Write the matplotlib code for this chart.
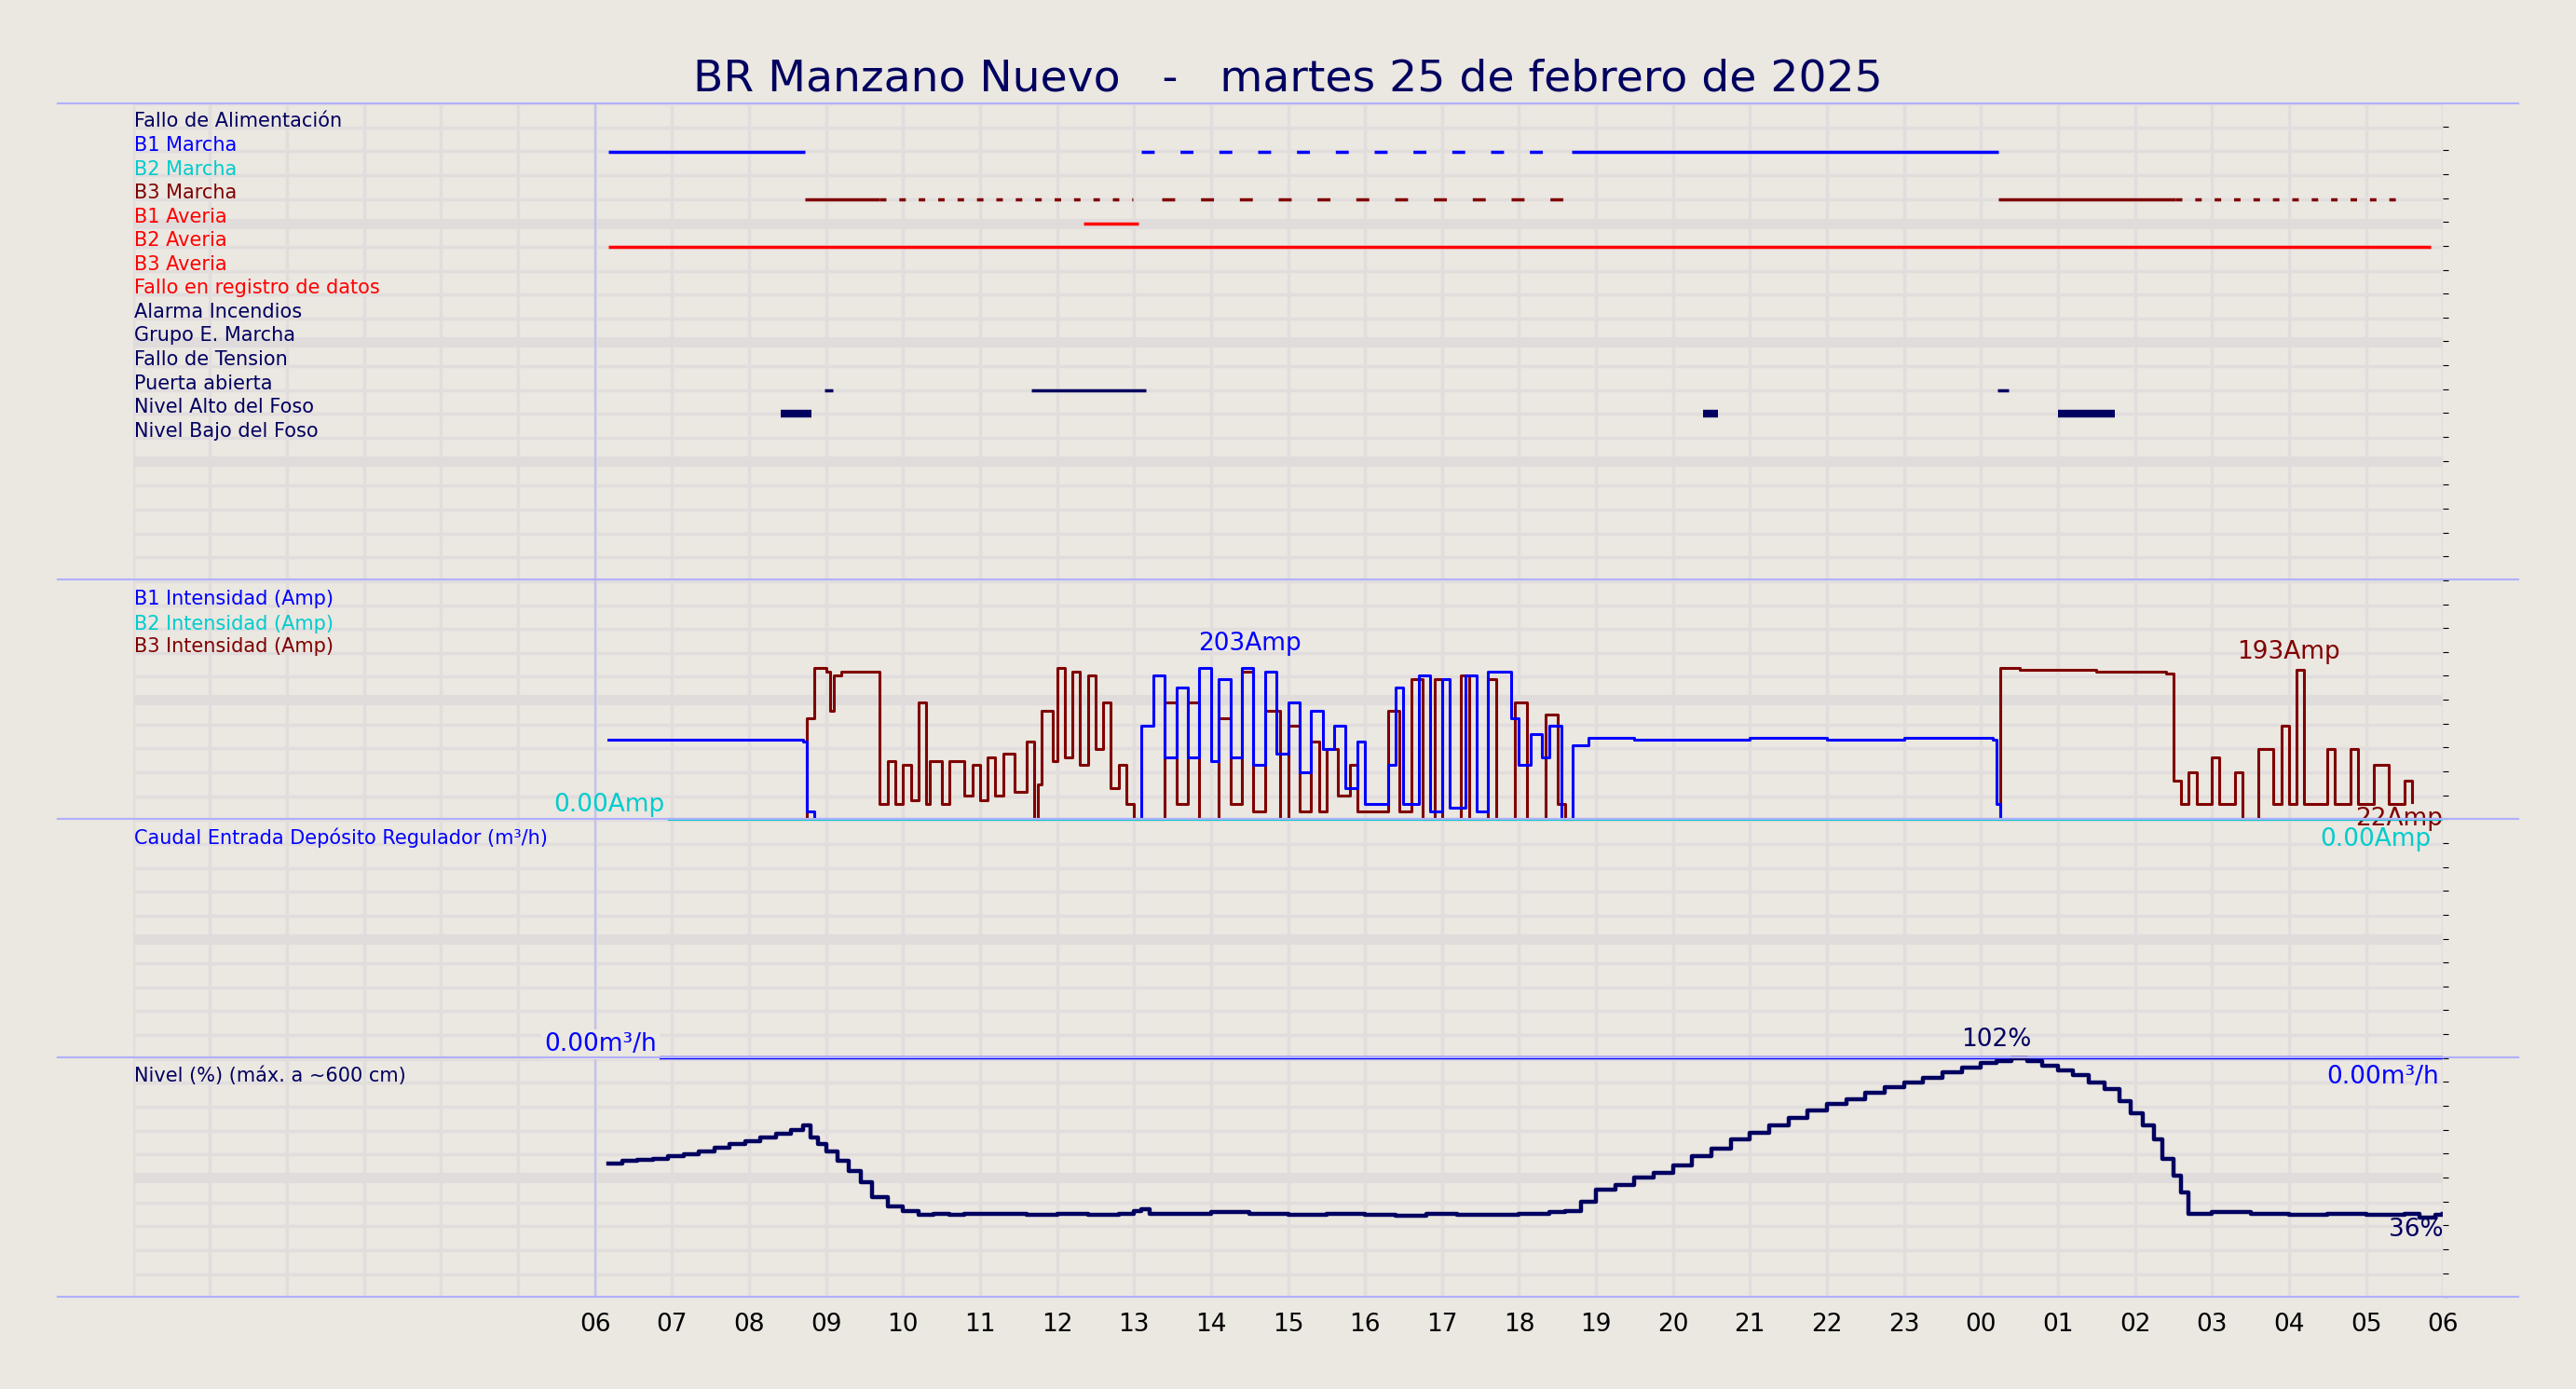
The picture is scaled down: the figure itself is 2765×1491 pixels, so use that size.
import numpy as np
import matplotlib.pyplot as plt

# --- Data (hours from 00:00 of the first day) ---
row_labels = ["Fallo de Alimentación", "B1 Marcha", "B2 Marcha", "B3 Marcha", "B1 Averia",
              "B2 Averia", "B3 Averia", "Fallo en registro de datos", "Alarma Incendios",
              "Grupo E. Marcha", "Fallo de Tension", "Puerta abierta", "Nivel Alto del Foso",
              "Nivel Bajo del Foso"]
row_colors = ["#000060", "blue", "#00cccc", "#800000", "red", "red", "red", "red",
              "#000060", "#000060", "#000060", "#000060", "#000060", "#000060"]

# (row, start, end, style)
digital_segments = [
    (1, 6.17, 8.73, "-"), (1, 13.1, 18.43, "--"), (1, 18.69, 24.23, "-"),
    (3, 8.73, 9.69, "-"), (3, 9.69, 12.99, ":"), (3, 13.36, 18.58, "--"),
    (3, 24.23, 26.53, "-"), (3, 26.53, 29.52, ":"),
    (4, 12.35, 13.06, "-"),
    (5, 6.17, 29.84, "-"),
    (11, 8.98, 9.09, "-"), (11, 11.67, 13.16, "-"), (11, 24.21, 24.36, "-"),
    (12, 8.41, 8.81, "-"), (12, 20.39, 20.58, "-"), (12, 25.0, 25.74, "-"),
]

b1_t = [6.17, 8.7, 8.75, 8.85, 13.1, 13.25, 13.4, 13.55, 13.7, 13.85, 14.0, 14.1, 14.25, 14.4,
        14.55, 14.7, 14.85, 15.0, 15.15, 15.3, 15.45, 15.6, 15.75, 15.9, 16.0, 16.3, 16.4, 16.5,
        16.7, 16.85, 17.0, 17.1, 17.3, 17.45, 17.6, 17.75, 17.9, 18.0, 18.15, 18.3, 18.4, 18.55,
        18.7, 18.9, 19.5, 21.0, 22.0, 23.0, 24.15, 24.2, 24.25, 30.0]
b1_a = [102, 100, 10, 0, 120, 185, 80, 170, 80, 195, 75, 180, 80, 195,
        70, 190, 85, 150, 60, 140, 90, 120, 40, 100, 20, 70, 170, 20,
        185, 10, 180, 15, 185, 10, 190, 190, 130, 70, 110, 80, 120, 0,
        95, 105, 103, 105, 103, 105, 103, 20, 0, 0]

b3_t = [6.96, 8.7, 8.75, 8.85, 9.0, 9.05, 9.1, 9.2, 9.7, 9.8, 9.9, 10.0, 10.1, 10.2, 10.3, 10.35,
        10.5, 10.6, 10.8, 10.9, 11.0, 11.1, 11.2, 11.3, 11.45, 11.6, 11.7, 11.75, 11.8, 11.95,
        12.0, 12.1, 12.2, 12.3, 12.4, 12.5, 12.6, 12.7, 12.8, 12.9, 13.0, 13.4, 13.55, 13.7,
        13.85, 14.1, 14.25, 14.4, 14.55, 14.7, 14.9, 15.0, 15.15, 15.3, 15.4, 15.5, 15.65, 15.8,
        15.9, 16.3, 16.45, 16.6, 16.75, 16.9, 17.0, 17.25, 17.35, 17.6, 17.7, 17.95, 18.1, 18.35,
        18.5, 18.6, 24.2, 24.25, 24.5, 25.5, 26.4, 26.5, 26.6, 26.7, 26.8, 27.0, 27.1, 27.3,
        27.4, 27.6, 27.8, 27.9, 28.0, 28.1, 28.2, 28.5, 28.6, 28.8, 28.9, 29.1, 29.3, 29.5, 29.6]
b3_a = [0, 0, 130, 195, 190, 140, 185, 190, 20, 75, 20, 70, 25, 150, 20, 75,
        20, 75, 30, 70, 25, 80, 30, 85, 35, 100, 0, 45, 140, 75,
        195, 80, 190, 70, 185, 90, 150, 40, 70, 20, 0, 150, 20, 150,
        0, 130, 20, 190, 10, 140, 0, 120, 10, 100, 10, 90, 30, 70,
        10, 140, 10, 180, 0, 180, 0, 185, 0, 180, 0, 150, 0, 135,
        20, 0, 0, 195, 193, 190, 188, 50, 20, 60, 20, 80, 20, 60,
        0, 90, 20, 120, 20, 193, 20, 90, 20, 90, 20, 70, 20, 50, 22]

level_points = [
    (6.17, 58), (6.35, 59), (6.55, 59.5), (6.75, 60), (6.95, 61), (7.15, 62), (7.35, 63),
    (7.55, 64.5), (7.75, 66), (7.95, 67.5), (8.15, 69), (8.35, 70.5), (8.55, 72), (8.7, 74),
    (8.8, 69), (8.9, 66), (9.0, 63), (9.15, 59), (9.3, 55), (9.45, 50), (9.6, 44), (9.8, 40),
    (10.0, 38), (10.2, 36.5), (10.4, 37), (10.6, 36.5), (10.8, 37), (11.2, 37), (11.6, 36.5),
    (12.0, 37), (12.4, 36.5), (12.8, 37), (13.0, 38), (13.1, 39), (13.2, 37), (13.6, 37),
    (14.0, 37.5), (14.5, 37), (15.0, 36.5), (15.5, 37), (16.0, 36.5), (16.4, 36), (16.8, 37),
    (17.2, 36.5), (17.6, 36.5), (18.0, 37), (18.4, 37.5), (18.6, 38), (18.8, 42), (19.0, 47),
    (19.25, 49), (19.5, 52), (19.75, 54), (20.0, 57), (20.25, 61), (20.5, 64), (20.75, 68),
    (21.0, 71), (21.25, 74), (21.5, 77), (21.75, 80), (22.0, 83), (22.25, 85), (22.5, 87.5),
    (22.75, 90), (23.0, 92), (23.25, 94), (23.5, 96), (23.75, 98), (24.0, 100), (24.2, 101),
    (24.4, 102), (24.6, 101), (24.8, 99), (25.0, 97), (25.2, 95), (25.4, 92), (25.6, 89),
    (25.8, 84), (25.95, 79), (26.1, 74), (26.25, 68), (26.35, 60), (26.5, 53), (26.6, 46),
    (26.7, 37), (27.0, 37.5), (27.5, 37), (28.0, 36.5), (28.5, 37), (29.0, 36.5), (29.5, 37),
    (29.7, 35.5), (29.9, 36.5), (30.0, 37),
]
lvl_t = [t for t, _ in level_points]
lvl_p = [p for _, p in level_points]

BG = "#ebe7e1"
GRID = "#e2dddd"
NAVY = "#000060"
DARKRED = "#800000"

def amp_y(a):
    return 499 - 0.473 * np.asarray(a, dtype=float)

def lvl_y(p):
    return 793 - 1.455 * np.asarray(p, dtype=float)

fig = plt.figure(figsize=(27.65, 14.91), dpi=100, facecolor=BG)
ax = fig.add_axes([81 / 1568, 1 - 790 / 846, (1487 - 81) / 1568, (790 - 63) / 846])
ax.set_facecolor(BG)
ax.set_xlim(0, 30)
ax.set_ylim(790, 63)
for s in ax.spines.values():
    s.set_visible(False)

# grid
for h in range(0, 31):
    ax.axvline(h, color=GRID, lw=2.5, zorder=0)
for y in np.arange(63, 791, 14.55):
    ax.axhline(y, color=GRID, lw=2.5, zorder=0)
for y in [136, 208, 281, 426, 572, 717]:
    ax.axhline(y, color="#e0dcdc", lw=8, zorder=0)
ax.axvline(6, color="#c0c0f0", lw=1.5, zorder=1)

# panel separators (figure wide)
for y in [63, 353, 499, 644, 790]:
    fig.add_artist(plt.Line2D([35 / 1568, 1533 / 1568], [1 - y / 846] * 2,
                              color="#b0b0ff", lw=1.5))

# digital rows
for i, (lab, c) in enumerate(zip(row_labels, row_colors)):
    ax.text(0.02, 74 + 14.5 * i, lab, color=c, fontsize=15, va="center", ha="left")
for row, t0, t1, st in digital_segments:
    c = row_colors[row] if row not in (11, 12) else NAVY
    lw = 6 if row == 12 else 2.5
    if st == "-":
        ax.plot([t0, t1], [78 + 14.5 * row] * 2, color=c, lw=lw, solid_capstyle="butt")
    else:
        ls = (0, (4, 8)) if st == "--" else (0, (2, 4))
        ax.plot([t0, t1], [78 + 14.5 * row] * 2, color=c, lw=2.5, ls=ls)

# currents
ax.text(0.02, 365, "B1 Intensidad (Amp)", color="blue", fontsize=15, va="center")
ax.text(0.02, 380, "B2 Intensidad (Amp)", color="#00cccc", fontsize=15, va="center")
ax.text(0.02, 394, "B3 Intensidad (Amp)", color=DARKRED, fontsize=15, va="center")
ax.step(b3_t, amp_y(b3_a), where="post", color=DARKRED, lw=2.2, zorder=3)
ax.step(b1_t, amp_y(b1_a), where="post", color="blue", lw=2.2, zorder=4)
ax.plot([6.96, 30], amp_y([0, 0]), color="#00cccc", lw=2.2, zorder=5)
ax.text(14.5, 392, "203Amp", color="blue", fontsize=19, ha="center", va="center")
ax.text(28.0, 397, "193Amp", color=DARKRED, fontsize=19, ha="center", va="center")
ax.text(6.9, 490, "0.00Amp", color="#00cccc", fontsize=19, ha="right", va="center")
ax.text(30.0, 499, "22Amp", color=DARKRED, fontsize=19, ha="right", va="center")
ax.text(29.85, 511, "0.00Amp", color="#00cccc", fontsize=19, ha="right", va="center")

# flow
ax.text(0.02, 510, "Caudal Entrada Depósito Regulador (m³/h)", color="blue", fontsize=15, va="center")
ax.plot([6.85, 30], [644, 644], color="blue", lw=2.5, zorder=3)
ax.text(6.8, 636, "0.00m³/h", color="blue", fontsize=19, ha="right", va="center",
        bbox=dict(facecolor=BG, edgecolor="none", pad=2), zorder=4)
ax.text(29.95, 656, "0.00m³/h", color="blue", fontsize=19, ha="right", va="center")

# level
ax.text(0.02, 655, "Nivel (%) (máx. a ~600 cm)", color=NAVY, fontsize=15, va="center")
ax.step(lvl_t, lvl_y(lvl_p), where="post", color=NAVY, lw=3.2, zorder=3)
ax.text(24.2, 633, "102%", color=NAVY, fontsize=19, ha="center", va="center")
ax.text(30.0, 749, "36%", color=NAVY, fontsize=19, ha="right", va="center")

# ticks
hours = list(range(6, 31))
ax.set_xticks(hours)
ax.set_xticklabels([f"{h % 24:02d}" for h in hours], fontsize=19)
ax.tick_params(axis="x", length=0, pad=12)
ax.set_yticks(np.arange(77, 790, 14.55))
ax.yaxis.tick_right()
ax.tick_params(axis="y", length=4, labelright=False)

fig.suptitle("BR Manzano Nuevo   -   martes 25 de febrero de 2025", fontsize=34,
             color=NAVY, y=0.958)

fig.savefig("out.png", dpi=100, facecolor=BG)
